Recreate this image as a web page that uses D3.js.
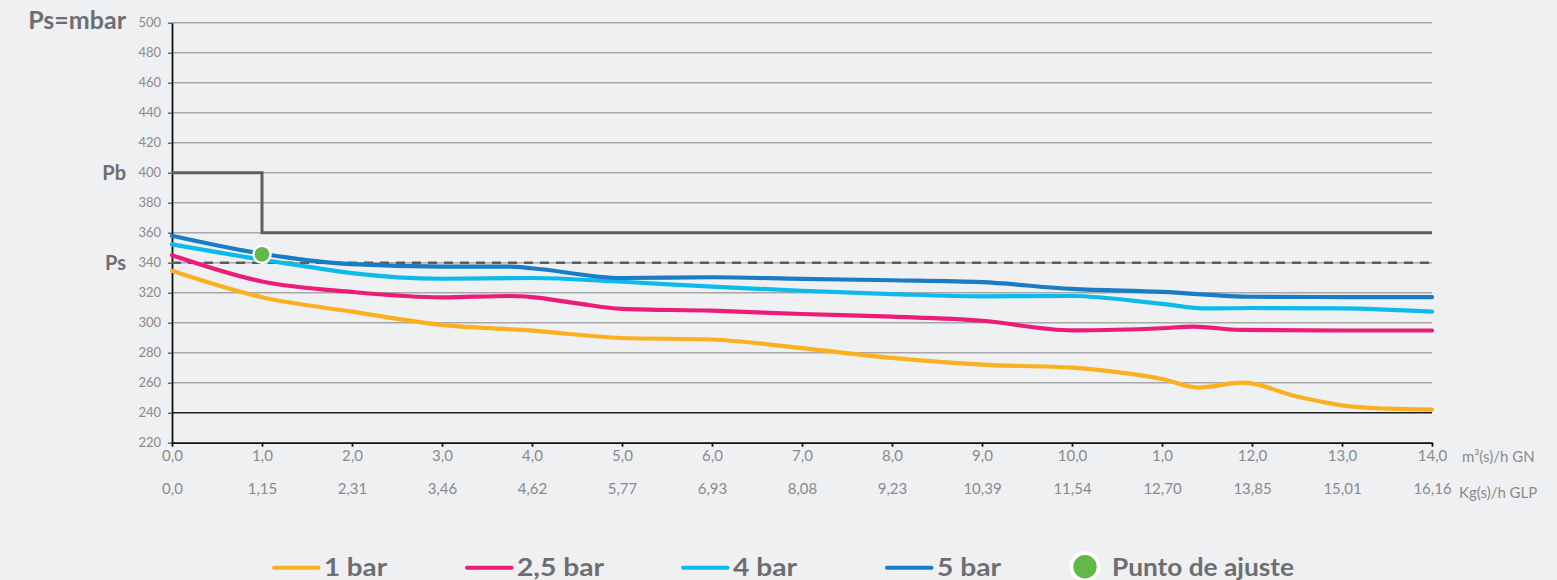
<!DOCTYPE html>
<html>
<head>
<meta charset="utf-8">
<script src="https://cdn.jsdelivr.net/npm/d3@7"></script>
<style>
  body { margin: 0; background: #eff0f2; }
  svg { display: block; font-family: Lato, "Noto Sans", sans-serif; }
</style>
</head>
<body>
<div id="chart"></div>
<script>
// flow in m3(s)/h GN and matching kg(s)/h GLP labels
var flowTicks = [0, 1, 2, 3, 4, 5, 6, 7, 8, 9, 10, 11, 12, 13, 14];
var gnLabels = ["0,0", "1,0", "2,0", "3,0", "4,0", "5,0", "6,0", "7,0", "8,0", "9,0", "10,0", "1,0", "12,0", "13,0", "14,0"];
var glpLabels = ["0,0", "1,15", "2,31", "3,46", "4,62", "5,77", "6,93", "8,08", "9,23", "10,39", "11,54", "12,70", "13,85", "15,01", "16,16"];
var pressureTicks = [220, 240, 260, 280, 300, 320, 340, 360, 380, 400, 420, 440, 460, 480, 500];

// outlet pressure (mbar) for each inlet pressure
var flow1bar = [0, 1, 2, 3, 4, 5, 6, 7, 8, 9, 10, 10.5, 11, 11.4, 11.9, 12.5, 13, 13.5, 14];
var p1bar = [334.7, 317, 307.4, 298.5, 294.7, 289.8, 288.8, 283, 276.5, 272, 270, 267, 262.5, 256.8, 260, 250.8, 244.9, 242.7, 242];
var flow25bar = [0, 1, 2, 3, 3.76, 4, 4.5, 5, 6, 7, 8, 9, 10, 11, 11.35, 11.87, 13, 14];
var p25bar = [345, 327.5, 320.5, 316.9, 317.8, 317.1, 312.9, 309.2, 308, 305.8, 304, 301.3, 294.9, 296.3, 297.4, 295.2, 294.8, 294.8];
var flow4bar = [0, 1, 1.5, 2, 3, 4, 5, 6, 7, 8, 9, 10, 11, 11.5, 12, 13, 14];
var p4bar = [352.2, 342, 337.4, 333, 329.3, 329.8, 327.3, 324, 321.3, 319.1, 317.6, 317.8, 312.5, 309.5, 309.8, 309.6, 307.4];
var flow5bar = [0, 1, 2, 3, 3.76, 4, 5, 6, 7, 8, 9, 10, 11, 12, 13, 14];
var p5bar = [358, 346, 339, 337.4, 337.4, 336.3, 329.8, 330.3, 329.2, 328.3, 327, 322.5, 320.5, 317.3, 317.1, 317];

var seriesNames = ["1 bar", "2,5 bar", "4 bar", "5 bar"];
var seriesColors = ["#fbb01f", "#ec1c79", "#0cbbe9", "#1a7cc2"];

// Pb limit (step), Ps set value, adjustment point
var pbFlow = [0, 1, 1, 14];
var pbValue = [400, 400, 360, 360];
var psValue = 340;
var adjustFlow = 1;
var adjustValue = 345.6;

var width = 1557, height = 580;
var margin = {left: 172, right: 125, top: 22.7, bottom: 137.3};

var svg = d3.select("#chart").append("svg").attr("width", width).attr("height", height);

var x = d3.scaleLinear().domain([0, 14]).range([margin.left, width - margin.right]);
var y = d3.scaleLinear().domain([220, 500]).range([height - margin.bottom, margin.top]);

// grid lines
svg.append("g").selectAll("line")
    .data(pressureTicks.slice(1))
    .enter()
    .append("line")
    .attr("x1", x(0))
    .attr("x2", x(14))
    .attr("y1", function(d) { return y(d); })
    .attr("y2", function(d) { return y(d); })
    .attr("stroke", function(d) { return d == 240 ? "#1e1e1e" : "#a7a7a9"; })
    .attr("stroke-width", 1.4);

// y axis
var yAxis = svg.append("g")
    .attr("transform", "translate(" + x(0) + ",0)")
    .call(d3.axisLeft(y).tickValues(pressureTicks).tickSize(4).tickPadding(7).tickSizeOuter(0));
yAxis.select(".domain").attr("stroke", "#111").attr("stroke-width", 1.8);
yAxis.selectAll(".tick line").attr("stroke", "#555").attr("stroke-width", 1.3);
yAxis.selectAll("text").attr("fill", "#8a8a8c").style("font-size", "13px").style("font-family", "Lato");

// x axis, GN row
var xAxis = svg.append("g")
    .attr("transform", "translate(0," + y(220) + ")")
    .call(d3.axisBottom(x).tickValues(flowTicks).tickSize(4).tickPadding(4).tickSizeOuter(0)
        .tickFormat(function(d, i) { return gnLabels[i]; }));
xAxis.select(".domain").attr("stroke", "#111").attr("stroke-width", 1.8);
xAxis.selectAll(".tick line").attr("stroke", "#111").attr("stroke-width", 1.8);
xAxis.selectAll("text").attr("fill", "#8a8a8c").style("font-size", "15px").style("font-family", "Lato");

// x axis, GLP row
var xAxis2 = svg.append("g")
    .attr("transform", "translate(0," + (y(220) + 37) + ")")
    .call(d3.axisBottom(x).tickValues(flowTicks).tickSize(0).tickPadding(4).tickSizeOuter(0)
        .tickFormat(function(d, i) { return glpLabels[i]; }));
xAxis2.select(".domain").remove();
xAxis2.selectAll("text").attr("fill", "#8a8a8c").style("font-size", "15px").style("font-family", "Lato");

svg.append("text").attr("x", x(14) + 30).attr("y", y(220) + 19)
    .attr("fill", "#8a8a8c").style("font-size", "15px").text("m³(s)/h GN");
svg.append("text").attr("x", x(14) + 27).attr("y", y(220) + 55)
    .attr("fill", "#8a8a8c").style("font-size", "15px").text("Kg(s)/h GLP");

// axis titles
svg.append("text").attr("x", 126).attr("y", 29).attr("text-anchor", "end")
    .attr("fill", "#6d6e71").style("font-size", "25px").style("font-weight", "bold").text("Ps=mbar");
svg.append("text").attr("x", 126).attr("y", y(400) + 7).attr("text-anchor", "end")
    .attr("fill", "#6d6e71").style("font-size", "20px").style("font-weight", "bold").text("Pb");
svg.append("text").attr("x", 126).attr("y", y(psValue) + 7).attr("text-anchor", "end")
    .attr("fill", "#6d6e71").style("font-size", "20px").style("font-weight", "bold").text("Ps");

// Pb step line
var pbLine = d3.line()
    .x(function(d, i) { return x(pbFlow[i]); })
    .y(function(d, i) { return y(pbValue[i]); });
svg.append("path").datum(pbFlow)
    .attr("d", pbLine)
    .attr("fill", "none")
    .attr("stroke", "#5e5e60")
    .attr("stroke-width", 3);

// Ps dashed line
svg.append("line")
    .attr("x1", x(0)).attr("x2", x(14))
    .attr("y1", y(psValue)).attr("y2", y(psValue))
    .attr("stroke", "#5b5b5d")
    .attr("stroke-width", 2.6)
    .attr("stroke-dasharray", "9,7");

// pressure curves
var seriesFlow = [flow1bar, flow25bar, flow4bar, flow5bar];
var seriesValues = [p1bar, p25bar, p4bar, p5bar];
var curveLine = d3.line()
    .x(function(d) { return x(d[0]); })
    .y(function(d) { return y(d[1]); })
    .curve(d3.curveMonotoneX);

for (var s = 0; s < seriesNames.length; s++) {
    var pts = seriesFlow[s].map(function(f, i) { return [f, seriesValues[s][i]]; });
    svg.append("path").datum(pts)
        .attr("d", curveLine)
        .attr("fill", "none")
        .attr("stroke", seriesColors[s])
        .attr("stroke-width", 4.2)
        .attr("stroke-linecap", "round");
}

// adjustment point
svg.append("circle")
    .attr("cx", x(adjustFlow))
    .attr("cy", y(adjustValue))
    .attr("r", 8.6)
    .attr("fill", "#61b94a")
    .attr("stroke", "#fff")
    .attr("stroke-width", 2.4);

// legend
var legendLineX = [274, 467, 683, 887];
var legendTextW = [63, 87, 64, 64];
var legendY = 567.7;
var legend = svg.append("g");
legend.selectAll("line")
    .data(seriesNames)
    .enter()
    .append("line")
    .attr("x1", function(d, i) { return legendLineX[i]; })
    .attr("x2", function(d, i) { return legendLineX[i] + 44.5; })
    .attr("y1", legendY).attr("y2", legendY)
    .attr("stroke", function(d, i) { return seriesColors[i]; })
    .attr("stroke-width", 4)
    .attr("stroke-linecap", "round");
legend.selectAll("text")
    .data(seriesNames)
    .enter()
    .append("text")
    .attr("x", function(d, i) { return legendLineX[i] + 50; })
    .attr("y", legendY + 8.5)
    .attr("textLength", function(d, i) { return legendTextW[i]; })
    .attr("lengthAdjust", "spacingAndGlyphs")
    .attr("fill", "#6d6e71")
    .style("font-size", "24px")
    .style("font-weight", "bold")
    .text(function(d) { return d; });

legend.append("circle")
    .attr("cx", 1085).attr("cy", 566.7)
    .attr("r", 13.6)
    .attr("fill", "#61b94a")
    .attr("stroke", "#fff")
    .attr("stroke-width", 3.8);
legend.append("text")
    .attr("x", 1112).attr("y", legendY + 8.5)
    .attr("textLength", 182)
    .attr("lengthAdjust", "spacingAndGlyphs")
    .attr("fill", "#6d6e71")
    .style("font-size", "24px")
    .style("font-weight", "bold")
    .text("Punto de ajuste");
</script>
</body>
</html>
